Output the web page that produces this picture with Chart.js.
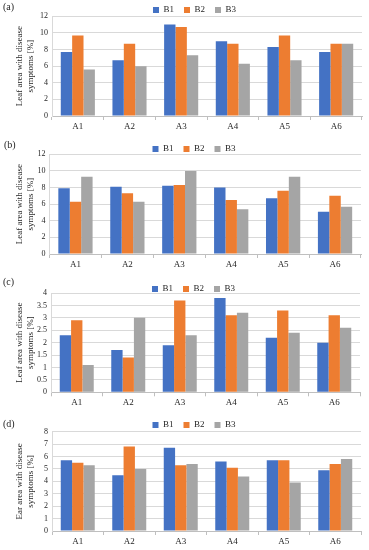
<!DOCTYPE html>
<html>
<head>
<meta charset="utf-8">
<script src="https://cdn.jsdelivr.net/npm/chart.js@4"></script>
<style>
body{margin:0;background:#fff;width:369px;height:550px;position:relative;overflow:hidden}
.panel{position:absolute;left:0;width:369px}
.tag{position:absolute;font:10px 'Liberation Serif',serif;color:#262626}
</style>
</head>
<body>
<div class="panel" style="top:0;height:135px"><canvas id="chartA" width="369" height="135"></canvas></div>
<div class="panel" style="top:135px;height:140px"><canvas id="chartB" width="369" height="140"></canvas></div>
<div class="panel" style="top:275px;height:135px"><canvas id="chartC" width="369" height="135"></canvas></div>
<div class="panel" style="top:410px;height:140px"><canvas id="chartD" width="369" height="140"></canvas></div>
<span class="tag" style="left:3px;top:1px">(a)</span>
<span class="tag" style="left:4px;top:139px">(b)</span>
<span class="tag" style="left:3px;top:276px">(c)</span>
<span class="tag" style="left:3px;top:418px">(d)</span>
<script>
const groups = ['A1','A2','A3','A4','A5','A6'];
const seriesNames = ['B1','B2','B3'];
const seriesColors = ['#4472C4','#ED7D31','#A5A5A5'];

// (a) leaf area
const leafA_B1 = [7.7, 6.7, 11.0, 9.0, 8.3, 7.7];
const leafA_B2 = [9.7, 8.7, 10.7, 8.7, 9.7, 8.7];
const leafA_B3 = [5.6, 6.0, 7.3, 6.3, 6.7, 8.7];
// (b) leaf area
const leafB_B1 = [7.9, 8.1, 8.2, 8.0, 6.7, 5.1];
const leafB_B2 = [6.3, 7.3, 8.3, 6.5, 7.6, 7.0];
const leafB_B3 = [9.3, 6.3, 10.0, 5.4, 9.3, 5.7];
// (c) leaf area
const leafC_B1 = [2.3, 1.7, 1.9, 3.8, 2.2, 2.0];
const leafC_B2 = [2.9, 1.4, 3.7, 3.1, 3.3, 3.1];
const leafC_B3 = [1.1, 3.0, 2.3, 3.2, 2.4, 2.6];
// (d) ear area
const earD_B1 = [5.7, 4.5, 6.7, 5.6, 5.7, 4.9];
const earD_B2 = [5.5, 6.8, 5.3, 5.1, 5.7, 5.4];
const earD_B3 = [5.3, 5.0, 5.4, 4.4, 3.9, 5.8];

const yMaxList = [12, 12, 4, 8];
const yStepList = [2, 2, 0.5, 1];
const yTitleLeaf = ['Leaf area with disease', 'symptoms [%]'];
const yTitleEar = ['Ear area with disease', 'symptoms [%]'];

Chart.defaults.font.family = "'Liberation Serif', serif";
Chart.defaults.font.size = 9;
Chart.defaults.color = '#262626';

function panelChart(id, values, yMax, yStep, yTitle, box){
    const datasets = values.map((v, i) => ({
        label: seriesNames[i],
        data: v,
        backgroundColor: seriesColors[i],
        categoryPercentage: 0.66,
        barPercentage: 1
    }));
    const padLeft = 27;
    new Chart(document.getElementById(id), {
        type: 'bar',
        data: {labels: groups, datasets: datasets},
        options: {
            responsive: false,
            animation: false,
            layout: {padding: {left: padLeft, right: box.right, top: box.legendTop, bottom: 0}},
            plugins: {
                legend: {
                    maxHeight: box.top - box.legendTop,
                    labels: {boxWidth: 6, boxHeight: 6, padding: 10}
                },
                tooltip: {enabled: false}
            },
            scales: {
                x: {
                    grid: {display: true, drawOnChartArea: false, offset: true, tickLength: 4, color: '#bfbfbf'},
                    border: {color: '#bfbfbf'},
                    ticks: {padding: 1},
                    afterFit: s => { s.height = box.h - box.bottom; }
                },
                y: {
                    min: 0,
                    max: yMax,
                    ticks: {stepSize: yStep, padding: 4, autoSkip: false, font: {size: 8}, callback: v => String(v)},
                    grid: {color: '#d9d9d9', drawTicks: false},
                    border: {color: '#d9d9d9'},
                    title: {display: true, text: yTitle, padding: {top: -13, bottom: 0}},
                    afterFit: s => { s.width = box.left - padLeft; }
                }
            }
        }
    });
}

panelChart('chartA', [leafA_B1, leafA_B2, leafA_B3], yMaxList[0], yStepList[0], yTitleLeaf,
    {h: 135, top: 16.3, bottom: 116, left: 52, right: 7, legendTop: -4.5});
panelChart('chartB', [leafB_B1, leafB_B2, leafB_B3], yMaxList[1], yStepList[1], yTitleLeaf,
    {h: 140, top: 19.3, bottom: 119, left: 49.5, right: 8, legendTop: -0.5});
panelChart('chartC', [leafC_B1, leafC_B2, leafC_B3], yMaxList[2], yStepList[2], yTitleLeaf,
    {h: 135, top: 18, bottom: 117.3, left: 51, right: 9, legendTop: -0.5});
panelChart('chartD', [earD_B1, earD_B2, earD_B3], yMaxList[3], yStepList[3], yTitleEar,
    {h: 140, top: 21.7, bottom: 121, left: 52, right: 8, legendTop: 0.5});
</script>
</body>
</html>
